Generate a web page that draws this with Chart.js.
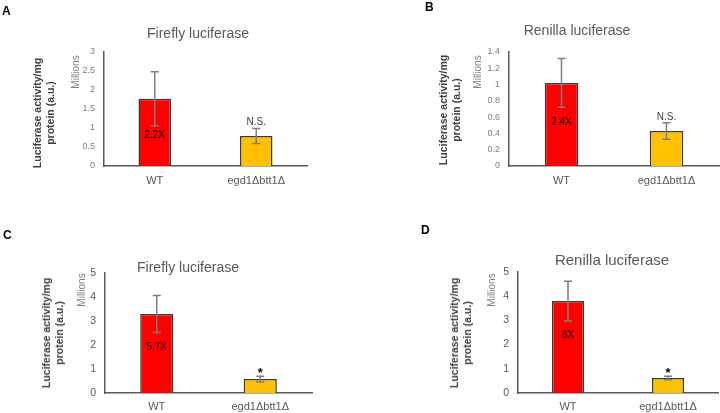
<!DOCTYPE html>
<html>
<head>
<meta charset="utf-8">
<script src="https://cdn.jsdelivr.net/npm/chart.js@4"></script>
<style>
  body { margin: 0; background: #fff; }
  #page { position: relative; width: 720px; height: 413px; overflow: hidden; font-family: "Liberation Sans", Arial, sans-serif; }
  canvas { position: absolute; }
  .lbl { position: absolute; white-space: nowrap; }
  .letter { font-weight: bold; font-size: 12px; color: #000; }
  .title { font-size: 14px; color: #595959; transform: translate(-50%, -50%); }
  .rot { transform: translate(-50%, -50%) rotate(-90deg); text-align: center; }
  .ytitle { font-weight: bold; font-size: 10.5px; color: #404040; line-height: 13px; }
  .mill { font-size: 10px; color: #7f7f7f; }
</style>
</head>
<body>
<div id="page"></div>
<script>
// data
var categories = ["WT", "egd1\u0394btt1\u0394"];
var panelTitles = ["Firefly luciferase", "Renilla luciferase", "Firefly luciferase", "Renilla luciferase"];
var meanA = [1.77, 0.79], errA = [0.71, 0.2];
var meanB = [1.02, 0.43], errB = [0.3, 0.1];
var meanC = [3.29, 0.58], errC = [0.77, 0.12];
var meanD = [3.8, 0.62], errD = [0.82, 0.07];
var yMax = [3, 1.4, 5, 5];
var yStep = [0.5, 0.2, 1, 1];
var foldLabels = ["2.2X", "2.4X", "5.7X", "6X"];
var foldAt = [0.82, 0.54, 1.92, 2.4];
var sigLabels = ["N.S.", "N.S.", "*", "*"];

var means = [meanA, meanB, meanC, meanD];
var errs = [errA, errB, errC, errD];
var barColors = ["#FF0000", "#FFC000"];

// layout of the four panels
var panels = [
    { letter: "A", x: 0, y: 0, w: 360, h: 200, pad: { left: 74, top: 52, right: 53, bottom: 14 }, xPad: 8,
      tickSize: 9, tickColor: "#808080",
      letterPos: [2, 4], titlePos: [198, 33], titleSize: 14, millPos: [75, 72], yTitlePos: [44, 113] },
    { letter: "B", x: 360, y: 0, w: 360, h: 200, pad: { left: 119, top: 52, right: 1, bottom: 14 }, xPad: 8,
      tickSize: 9, tickColor: "#808080",
      letterPos: [425, 0], titlePos: [577, 30], titleSize: 14, millPos: [477, 72], yTitlePos: [450, 110] },
    { letter: "C", x: 0, y: 200, w: 360, h: 213, pad: { left: 75, top: 73, right: 48, bottom: 0 }, xPad: 7,
      tickSize: 10.5, tickColor: "#595959",
      letterPos: [3, 228], titlePos: [188, 267], titleSize: 14, millPos: [81, 290], yTitlePos: [53, 333] },
    { letter: "D", x: 360, y: 200, w: 360, h: 213, pad: { left: 128, top: 72, right: 2, bottom: 0 }, xPad: 7,
      tickSize: 10.5, tickColor: "#595959",
      letterPos: [421, 223], titlePos: [612, 259], titleSize: 15, millPos: [491, 290], yTitlePos: [461, 333] }
];

var page = document.getElementById("page");

function addLabel(cls, html, x, y, extraStyle) {
    var d = document.createElement("div");
    d.className = "lbl " + cls;
    d.innerHTML = html;
    d.style.left = x + "px";
    d.style.top = y + "px";
    if (extraStyle) d.style.cssText += extraStyle;
    page.appendChild(d);
    return d;
}

// error bars + annotations
var errorBarPlugin = {
    id: "errorBars",
    afterDatasetsDraw: function(chart) {
        var k = chart.options.plugins.errorBars.panel;
        var ctx = chart.ctx;
        var yScale = chart.scales.y;
        var meta = chart.getDatasetMeta(0);
        ctx.save();
        ctx.strokeStyle = "#7f7f7f";
        ctx.lineWidth = 1.5;
        meta.data.forEach(function(bar, i) {
            var top = yScale.getPixelForValue(means[k][i] + errs[k][i]);
            var bot = yScale.getPixelForValue(means[k][i] - errs[k][i]);
            ctx.beginPath();
            ctx.moveTo(bar.x, top); ctx.lineTo(bar.x, bot);
            ctx.moveTo(bar.x - 4, top); ctx.lineTo(bar.x + 4, top);
            ctx.moveTo(bar.x - 4, bot); ctx.lineTo(bar.x + 4, bot);
            ctx.stroke();
        });
        // fold change label inside WT bar
        ctx.fillStyle = "#000";
        ctx.font = "10px 'Liberation Sans', Arial, sans-serif";
        ctx.textAlign = "center";
        ctx.textBaseline = "middle";
        ctx.fillText(foldLabels[k], meta.data[0].x, yScale.getPixelForValue(foldAt[k]));
        // significance above mutant
        var sTop = yScale.getPixelForValue(means[k][1] + errs[k][1]);
        ctx.textBaseline = "bottom";
        if (sigLabels[k] == "*") {
            ctx.font = "bold 13px 'Liberation Sans', Arial, sans-serif";
            ctx.fillStyle = "#000";
            ctx.fillText(sigLabels[k], meta.data[1].x, sTop + 4);
        } else {
            ctx.font = "10px 'Liberation Sans', Arial, sans-serif";
            ctx.fillStyle = "#404040";
            ctx.fillText(sigLabels[k], meta.data[1].x, sTop - 1);
        }
        ctx.restore();
    }
};

panels.forEach(function(p, k) {
    var cv = document.createElement("canvas");
    cv.width = p.w; cv.height = p.h;
    cv.style.left = p.x + "px"; cv.style.top = p.y + "px";
    cv.style.width = p.w + "px"; cv.style.height = p.h + "px";
    page.appendChild(cv);

    addLabel("letter", p.letter, p.letterPos[0], p.letterPos[1]);
    addLabel("title", panelTitles[k], p.titlePos[0], p.titlePos[1], "font-size:" + p.titleSize + "px");
    addLabel("rot mill", "Millions", p.millPos[0], p.millPos[1]);
    addLabel("rot ytitle", "Luciferase activity/mg<br>protein (a.u.)", p.yTitlePos[0], p.yTitlePos[1]);

    new Chart(cv, {
        type: "bar",
        data: {
            labels: categories,
            datasets: [{
                data: means[k],
                backgroundColor: barColors,
                borderColor: "#3a3a3a",
                borderWidth: 1.5,
                categoryPercentage: 1,
                barPercentage: 0.32
            }]
        },
        options: {
            responsive: false,
            animation: false,
            devicePixelRatio: 1,
            layout: { padding: p.pad },
            plugins: {
                legend: { display: false },
                tooltip: { enabled: false },
                errorBars: { panel: k }
            },
            scales: {
                x: {
                    grid: { display: false, drawTicks: false },
                    border: { display: true, color: "#595959", width: 1.5 },
                    ticks: { color: "#595959", padding: p.xPad, font: { size: 11, family: "'Liberation Sans', Arial, sans-serif" } },
                    afterFit: function(s) { s.height = 20; }
                },
                y: {
                    min: 0,
                    max: yMax[k],
                    grid: { display: false, drawTicks: false },
                    border: { display: true, color: "#595959", width: 1.5 },
                    ticks: {
                        stepSize: yStep[k],
                        color: p.tickColor,
                        padding: 9,
                        font: { size: p.tickSize, family: "'Liberation Sans', Arial, sans-serif" },
                        callback: function(v) { return +v.toFixed(1); }
                    },
                    afterFit: function(s) { s.width = 30; }
                }
            }
        },
        plugins: [errorBarPlugin]
    });
});
</script>
</body>
</html>
